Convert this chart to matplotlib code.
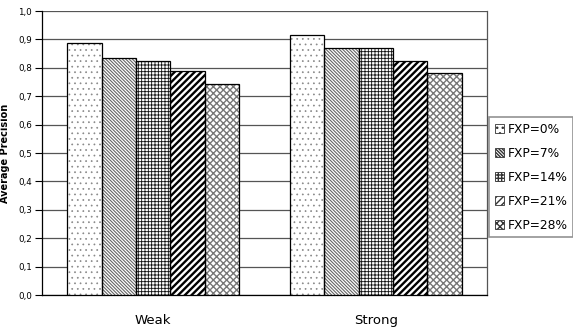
import numpy as np
import matplotlib.pyplot as plt

categories = ['Weak', 'Strong']
series = ['FXP=0%', 'FXP=7%', 'FXP=14%', 'FXP=21%', 'FXP=28%']
values = [
    [0.887, 0.915],   # FXP=0%
    [0.834, 0.870],   # FXP=7%
    [0.824, 0.870],   # FXP=14%
    [0.789, 0.824],   # FXP=21%
    [0.743, 0.782],   # FXP=28%
]
yticks = [0.0, 0.1, 0.2, 0.3, 0.4, 0.5, 0.6, 0.7, 0.8, 0.9, 1.0]

hatches = ['...', '\\' * 10, '+' * 5, '/' * 5, 'x' * 5]
hatch_cols = ['#888888', '#666666', '#111111', '#000000', '#777777']
hatch_lws = [0.5, 0.8, 0.6, 1.7, 1.0]

fig = plt.figure(figsize=(5.73, 3.27), dpi=100)
ax = fig.add_axes([42/573, 1 - 295/327, (487 - 42)/573, (295 - 11)/327])

x = np.arange(len(categories))
w = 0.155
handles = []
for i, (name, vals) in enumerate(zip(series, values)):
    pos = x + (i - 2) * w
    ax.bar(pos, vals, w, color='white', edgecolor=hatch_cols[i], linewidth=0,
           hatch=hatches[i], hatch_linewidth=hatch_lws[i], zorder=3)
    ax.bar(pos, vals, w, fill=False, edgecolor='black', linewidth=0.9, zorder=4)
    handles.append(plt.Rectangle((0, 0), 1, 1, facecolor='white',
                                 edgecolor='#333333', linewidth=0.6,
                                 hatch=hatches[i], hatch_linewidth=0.6))

ax.set_xlim(-0.5, 1.5)
ax.set_ylim(0, 1.0)
ax.set_yticks(yticks)
ax.set_yticklabels([f"{v:.1f}".replace('.', ',') for v in yticks], fontsize=6.3)
ax.set_xticks(x)
ax.set_xticklabels(categories, fontsize=9.5)
ax.tick_params(axis='x', length=0, pad=14)
ax.tick_params(axis='y', length=5, width=0.8, direction='out', pad=2)
ax.set_ylabel('Average Precision', fontsize=7, fontweight='bold', labelpad=6)
ax.yaxis.grid(True, color='#555555', linewidth=0.9, zorder=0)
ax.set_axisbelow(True)
for s in ['left', 'bottom']:
    ax.spines[s].set_color('black')
    ax.spines[s].set_linewidth(0.9)
ax.spines['top'].set_visible(False)
ax.spines['right'].set_color('#555555')
ax.spines['right'].set_linewidth(0.9)

leg = fig.legend(handles, series, loc='upper left',
                 bbox_to_anchor=(489/573, 1 - 117/327), fontsize=8.8,
                 frameon=True, fancybox=False, handlelength=0.75,
                 handleheight=0.75, handletextpad=0.35, labelspacing=0.9,
                 borderpad=0.45, borderaxespad=0)
leg.get_frame().set_edgecolor('#777777')
leg.get_frame().set_linewidth(1.2)

fig.savefig('out.png', dpi=100)
